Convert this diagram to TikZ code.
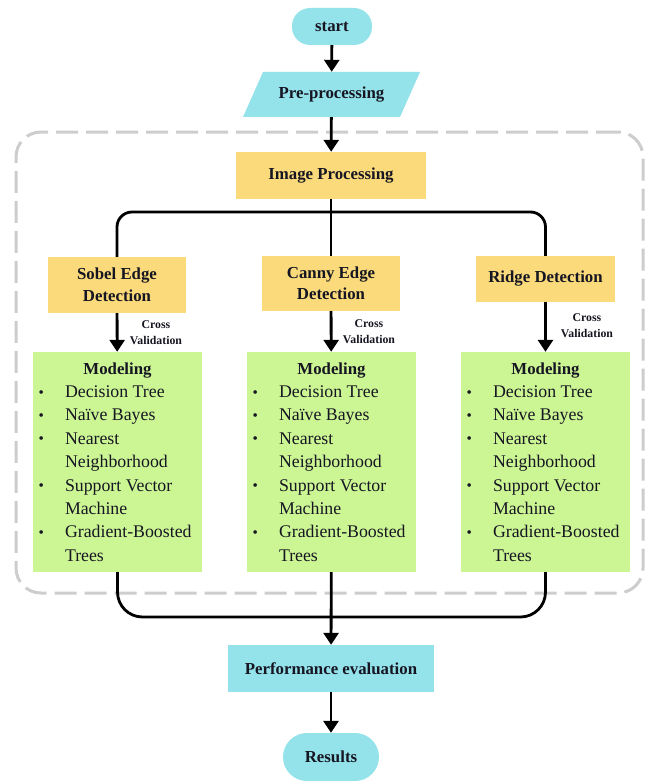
\documentclass[tikz,border=0pt]{standalone}
\usepackage{fontspec}
\usepackage{graphicx}
\setmainfont{Liberation Serif}
\usetikzlibrary{arrows.meta}
\definecolor{cyanc}{RGB}{148,226,234}
\definecolor{yelc}{RGB}{250,218,122}
\definecolor{grnc}{RGB}{204,245,148}
\definecolor{txtc}{RGB}{22,22,34}
\definecolor{dashc}{RGB}{205,205,205}
\newcommand{\mbul}{\makebox[30.5pt][l]{\hspace{4pt}\raisebox{0.5pt}{\scalebox{0.85}{\textbullet}}}}
\newcommand{\mind}{\hspace*{30.5pt}}
\newcommand{\mdlist}{\begin{minipage}{166pt}\fontsize{17.8}{23.4}\selectfont\centering{\fontsize{16.8}{23.4}\selectfont\textbf{Modeling}}\par\raggedright
\mbul Decision Tree\par
\mbul Naïve Bayes\par
\mbul Nearest\par
\mind Neighborhood\par
\mbul Support Vector\par
\mind Machine\par
\mbul Gradient-Boosted\par
\mind Trees\end{minipage}}
\begin{document}
\begin{tikzpicture}[x=1pt,y=-1pt,
  box/.style={rectangle, draw=none, inner sep=0pt, align=center,
    font=\fontsize{16.8}{21.5}\selectfont\bfseries, text=txtc},
  cyanbox/.style={box, fill=cyanc},
  yelbox/.style={box, fill=yelc},
  term/.style={cyanbox, rounded corners=18pt},
  modbox/.style={rectangle, fill=grnc, inner sep=0pt, minimum width=169pt,
    minimum height=220pt, text=txtc},
  conn/.style={line width=2.8pt, draw=black},
  arr/.style={conn, -{Triangle[width=15pt,length=12pt]}},
  cvlabel/.style={font=\fontsize{11.8}{16}\selectfont\bfseries, align=center,
    inner sep=0pt, text=txtc},
  groupbox/.style={draw=dashc, line width=3pt, dash pattern=on 22pt off 8pt,
    rounded corners=25pt, inner sep=0pt}
]
\useasboundingbox (0,0) rectangle (649,781);

% group frame
\node[groupbox, minimum width=627pt, minimum height=461pt] (grp) at (329.5,362.5) {};

% top
\node[term, minimum width=80pt, minimum height=37pt] (start) at (332,26.5) {start};
\fill[cyanc] (243,117) -- (400,117) -- (420,72) -- (263,72) -- cycle;
\node[box, minimum width=150pt, minimum height=45pt] (pre) at (331.5,94.5) {Pre-processing};
\node[yelbox, minimum width=190pt, minimum height=47pt] (img) at (331,175.5) {Image Processing};

% detection boxes
\node[yelbox, minimum width=138pt, minimum height=56pt] (sobel) at (117,285) {Sobel Edge\\Detection};
\node[yelbox, minimum width=138pt, minimum height=55pt] (canny) at (331,283.5) {Canny Edge\\Detection};
\node[yelbox, minimum width=139pt, minimum height=46pt] (ridge) at (545.5,279) {Ridge Detection};

% modeling boxes
\node[modbox] (mod1) at (117.5,462) {\mdlist};
\node[modbox] (mod2) at (331.5,462) {\mdlist};
\node[modbox] (mod3) at (545.5,462) {\mdlist};

% bottom
\node[cyanbox, minimum width=206pt, minimum height=47pt] (perf) at (331,668.5) {Performance evaluation};
\node[term, minimum width=96pt, minimum height=48pt, rounded corners=24pt] (res) at (331,757) {Results};

% cross validation labels
\node[cvlabel] (cv1) at (156,333) {Cross\\Validation};
\node[cvlabel] (cv2) at (369,332) {Cross\\Validation};
\node[cvlabel] (cv3) at (587,326) {Cross\\Validation};

% connectors
\coordinate (br) at (331,212);
\coordinate (mg) at (331,617);
\draw[arr] (start) -- (pre);
\draw[arr] (pre) -- (img);
\draw[conn] (img) -- (canny);
\draw[conn, rounded corners=15pt] (sobel.north) |- (br) -| (ridge.north);
\draw[arr] (sobel) -- (mod1);
\draw[arr] (canny) -- (mod2);
\draw[arr] (ridge) -- (mod3);
\draw[conn, rounded corners=25pt] (mod1.south) |- (mg) -| (mod3.south);
\draw[arr] (mod2) -- (perf);
\draw[arr] (perf) -- (res);
\end{tikzpicture}
\end{document}
